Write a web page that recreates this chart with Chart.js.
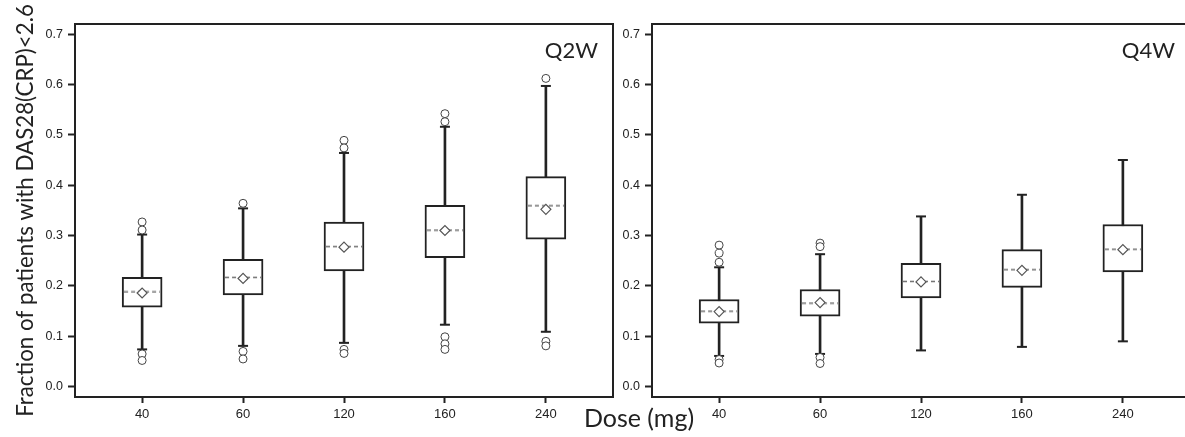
<!DOCTYPE html>
<html>
<head>
<meta charset="utf-8">
<script src="https://cdn.jsdelivr.net/npm/chart.js@4.4.1/dist/chart.umd.min.js"></script>
<style>
  html, body { margin: 0; padding: 0; background: #fff; overflow: hidden; }
  #wrap { position: relative; width: 1185px; height: 437px; overflow: hidden; background: #fff; }
  .panel { position: absolute; top: 0; height: 437px; }
  #leftBox { left: 0; width: 620px; }
  #rightBox { left: 620px; width: 590px; }
  #doseLabel {
    position: absolute; left: 539px; width: 200px; top: 402px;
    text-align: center; font-family: Lato, "Open Sans", sans-serif; font-size: 25px;
    line-height: 30px; color: #222;
  }
</style>
</head>
<body>
<div id="wrap">
  <div class="panel" id="leftBox"><canvas id="q2wChart"></canvas></div>
  <div class="panel" id="rightBox"><canvas id="q4wChart"></canvas></div>
  <div id="doseLabel">Dose (mg)</div>
</div>
<script>
const doses = ["40", "60", "120", "160", "240"];
const yTicks = [0, 0.1, 0.2, 0.3, 0.4, 0.5, 0.6, 0.7];
const yTitle = "Fraction of patients with DAS28(CRP)<2.6";

// Q2W dosing
const q2wLow = [0.074, 0.081, 0.087, 0.123, 0.109];
const q2wQ1 = [0.158, 0.182, 0.230, 0.256, 0.293];
const q2wMedian = [0.188, 0.217, 0.278, 0.311, 0.359];
const q2wQ3 = [0.217, 0.253, 0.327, 0.360, 0.417];
const q2wHigh = [0.302, 0.354, 0.464, 0.516, 0.597];
const q2wMean = [0.186, 0.215, 0.277, 0.310, 0.352];
const q2wOutliers = [
  [0.327, 0.311, 0.065, 0.052],
  [0.364, 0.070, 0.055],
  [0.489, 0.474, 0.074, 0.066],
  [0.542, 0.526, 0.099, 0.085, 0.074],
  [0.612, 0.090, 0.081]
];

// Q4W dosing
const q4wLow = [0.061, 0.065, 0.072, 0.079, 0.090];
const q4wQ1 = [0.126, 0.140, 0.176, 0.197, 0.228];
const q4wMedian = [0.150, 0.166, 0.209, 0.232, 0.273];
const q4wQ3 = [0.173, 0.193, 0.245, 0.272, 0.322];
const q4wHigh = [0.237, 0.263, 0.338, 0.381, 0.450];
const q4wMean = [0.149, 0.167, 0.208, 0.231, 0.272];
const q4wOutliers = [
  [0.281, 0.265, 0.247, 0.054, 0.047],
  [0.285, 0.278, 0.058, 0.046],
  [],
  [],
  []
];

const ink = "#222";

// dashed median line used as a point image
const medianDash = document.createElement("canvas");
medianDash.width = 36;
medianDash.height = 3;
(function () {
  const c = medianDash.getContext("2d");
  c.strokeStyle = "#6f6f6f";
  c.lineWidth = 1.3;
  c.setLineDash([4, 3]);
  c.beginPath();
  c.moveTo(0, 1.5);
  c.lineTo(36, 1.5);
  c.stroke();
})();

const framePlugin = {
  id: "frame",
  afterDraw(chart) {
    const { ctx, chartArea: a } = chart;
    ctx.save();
    ctx.strokeStyle = ink;
    ctx.lineWidth = 2;
    ctx.strokeRect(a.left, a.top, a.right - a.left, a.bottom - a.top);
    const label = chart.options.plugins.frame.label;
    ctx.fillStyle = ink;
    ctx.font = "22px Lato, 'Open Sans', sans-serif";
    ctx.textAlign = "right";
    ctx.textBaseline = "alphabetic";
    ctx.fillText(label, a.right - 15, a.top + 34);
    ctx.restore();
  }
};

function makeChart(id, label, low, q1, med, q3, high, mean, outliers, opts) {
  const idx = doses.map((d, i) => i);
  new Chart(document.getElementById(id), {
    type: "bar",
    data: {
      datasets: [
        {
          label: "whisker",
          data: idx.map(i => ({ x: i, y: [low[i], high[i]] })),
          backgroundColor: ink,
          borderWidth: 0,
          barThickness: 2,
          grouped: false,
          order: 5
        },
        {
          label: "box",
          data: idx.map(i => ({ x: i, y: [q1[i], q3[i]] })),
          backgroundColor: "#fff",
          borderColor: ink,
          borderWidth: 2,
          borderSkipped: false,
          barThickness: 40,
          grouped: false,
          order: 4
        },
        {
          type: "scatter",
          label: "caps",
          data: idx.map(i => ({ x: i, y: low[i] })).concat(idx.map(i => ({ x: i, y: high[i] }))),
          pointStyle: "line",
          pointRadius: 5,
          borderColor: ink,
          borderWidth: 2,
          order: 3
        },
        {
          type: "scatter",
          label: "median",
          data: idx.map(i => ({ x: i, y: med[i] })),
          pointStyle: medianDash,
          pointRadius: 2,
          order: 2
        },
        {
          type: "scatter",
          label: "mean",
          data: idx.map(i => ({ x: i, y: mean[i] })),
          pointStyle: "rectRot",
          pointRadius: 5,
          backgroundColor: "#fff",
          borderColor: "#555",
          borderWidth: 1.2,
          order: 1
        },
        {
          type: "scatter",
          label: "outliers",
          data: idx.flatMap(i => outliers[i].map(v => ({ x: i, y: v }))),
          pointStyle: "circle",
          pointRadius: 4,
          backgroundColor: "#fff",
          borderColor: "#444",
          borderWidth: 1,
          order: 1
        }
      ]
    },
    options: {
      responsive: true,
      maintainAspectRatio: false,
      animation: false,
      layout: { padding: opts.padding },
      plugins: {
        legend: { display: false },
        tooltip: { enabled: false },
        frame: { label: label }
      },
      scales: {
        x: {
          type: "linear",
          min: -0.665,
          max: 4.665,
          offset: false,
          afterBuildTicks: s => { s.ticks = idx.map(i => ({ value: i })); },
          afterFit: s => { s.height = 40; },
          ticks: {
            callback: v => doses[v],
            color: ink,
            padding: 4,
            maxRotation: 0,
            font: { family: "'Liberation Sans', Arial, sans-serif", size: 13 }
          },
          grid: {
            display: true,
            offset: false,
            drawOnChartArea: false,
            tickLength: 6,
            tickWidth: 2,
            tickColor: ink
          },
          border: { display: true, color: ink, width: 2 }
        },
        y: {
          min: -0.0205,
          max: 0.72,
          afterBuildTicks: s => { s.ticks = yTicks.map(v => ({ value: v })); },
          afterFit: s => { s.width = opts.yWidth; },
          ticks: {
            callback: v => v.toFixed(1),
            color: ink,
            padding: 5,
            font: { family: "'Liberation Sans', Arial, sans-serif", size: 12.5 }
          },
          grid: {
            display: true,
            drawOnChartArea: false,
            tickLength: 7,
            tickWidth: 2,
            tickColor: ink
          },
          border: { display: true, color: ink, width: 2 },
          title: {
            display: opts.showTitle,
            text: yTitle,
            color: ink,
            padding: { top: 12, bottom: 0 },
            font: { family: "Lato, 'Open Sans', sans-serif", size: 22.3, lineHeight: 1.2 }
          }
        }
      }
    },
    plugins: [framePlugin]
  });
}

makeChart("q2wChart", "Q2W", q2wLow, q2wQ1, q2wMedian, q2wQ3, q2wHigh, q2wMean, q2wOutliers,
  { padding: { top: 24, right: 5, bottom: 0, left: 0 }, yWidth: 75, showTitle: true });
makeChart("q4wChart", "Q4W", q4wLow, q4wQ1, q4wMedian, q4wQ3, q4wHigh, q4wMean, q4wOutliers,
  { padding: { top: 24, right: 20, bottom: 0, left: 0 }, yWidth: 32, showTitle: false });
</script>
</body>
</html>
